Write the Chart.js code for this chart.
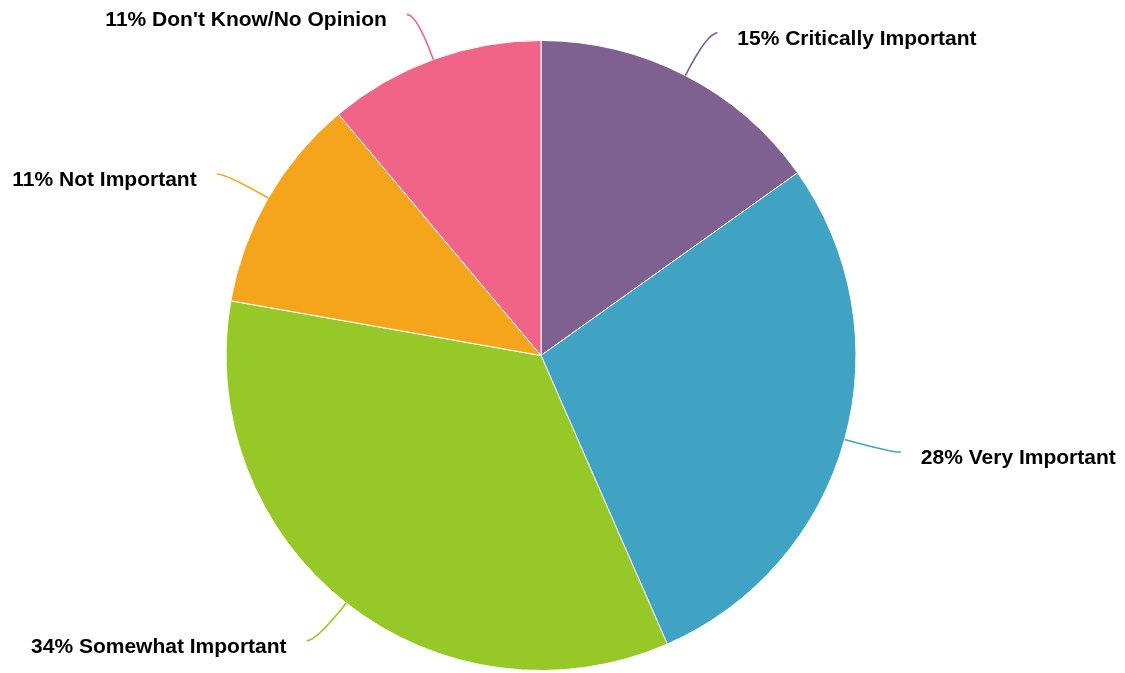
<!DOCTYPE html>
<html>
<head>
<meta charset="utf-8">
<script src="https://cdn.jsdelivr.net/npm/chart.js@4/dist/chart.umd.min.js"></script>
<style>
    html, body { margin: 0; padding: 0; background: #fff; }
    #wrap { width: 1125px; height: 673px; position: relative; }
</style>
</head>
<body>
<div id="wrap"><canvas id="pie"></canvas></div>
<script>
const categories = ['Critically Important', 'Very Important', 'Somewhat Important', 'Not Important', "Don't Know/No Opinion"];
const percents = [15, 28, 34, 11, 11];
const sliceColors = ['#7e6190', '#40a3c3', '#96c828', '#f5a51b', '#f06587'];

// curved leader lines + labels outside the pie
const outsideLabels = {
    id: 'outsideLabels',
    afterDraw(chart) {
        const ctx = chart.ctx;
        const meta = chart.getDatasetMeta(0);
        ctx.save();
        ctx.font = 'bold 21px "Liberation Sans", Arial, sans-serif';
        ctx.textBaseline = 'middle';
        ctx.fillStyle = '#000';
        meta.data.forEach((arc, i) => {
            const p = arc.getProps(['x', 'y', 'startAngle', 'endAngle', 'outerRadius'], true);
            const mid = (p.startAngle + p.endAngle) / 2;
            const cos = Math.cos(mid), sin = Math.sin(mid);
            const right = cos >= 0;
            const sx = p.x + p.outerRadius * cos;
            const sy = p.y + p.outerRadius * sin;
            const cx = p.x + (p.outerRadius + 48) * cos;
            const cy = p.y + (p.outerRadius + 48) * sin;
            const ex = cx + (right ? 10 : -10);
            const ey = cy;

            ctx.strokeStyle = sliceColors[i];
            ctx.lineWidth = 1.6;
            ctx.beginPath();
            ctx.moveTo(sx, sy);
            ctx.quadraticCurveTo(cx, cy, ex, ey);
            ctx.stroke();

            ctx.textAlign = right ? 'left' : 'right';
            ctx.fillText(percents[i] + '% ' + categories[i], ex + (right ? 20 : -20), ey + 6);
        });
        ctx.restore();
    }
};

new Chart(document.getElementById('pie'), {
    type: 'pie',
    data: {
        labels: categories,
        datasets: [{
            data: percents,
            backgroundColor: sliceColors,
            borderColor: '#fff',
            borderWidth: 1
        }]
    },
    options: {
        responsive: true,
        maintainAspectRatio: false,
        animation: false,
        layout: { padding: { top: 40, bottom: 2, left: 0, right: 43 } },
        plugins: {
            legend: { display: false },
            tooltip: { enabled: false }
        }
    },
    plugins: [outsideLabels]
});
</script>
</body>
</html>
